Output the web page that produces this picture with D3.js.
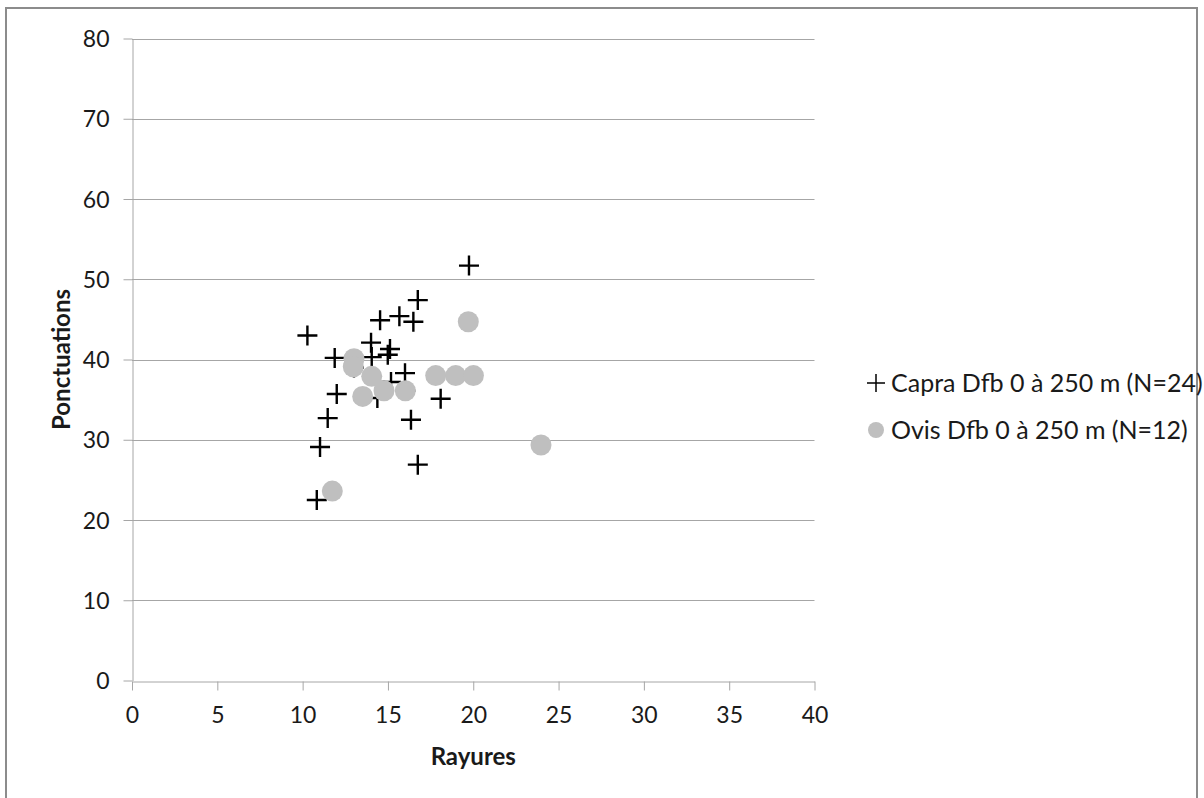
<!DOCTYPE html>
<html><head><meta charset="utf-8">
<script src="https://cdn.jsdelivr.net/npm/d3@7"></script>
<style>body{margin:0;background:#fff;} text{font-family:Lato, "Open Sans", sans-serif;}</style>
</head><body>
<svg id="c" width="1204" height="798"></svg>
<script>
// Capra Dfb 0 à 250 m (N=24): [Rayures, Ponctuations]
const capraX = [19.75, 16.75, 14.54, 15.67, 16.49, 10.28, 14.01, 15.12, 14.99, 11.88, 14.05, 16.0, 14.38, 12.0, 18.09, 11.47, 16.35, 11.02, 16.75, 10.83, 15.18, 13.01, 14.77, 16.02];
const capraY = [51.7, 47.4, 44.9, 45.4, 44.7, 43.0, 42.1, 41.3, 40.6, 40.2, 40.3, 38.3, 35.2, 35.7, 35.1, 32.7, 32.5, 29.1, 26.9, 22.5, 37.2, 39.0, 36.1, 36.1];
// Ovis Dfb 0 à 250 m (N=12)
const ovisX = [19.71, 13.01, 12.97, 14.05, 13.52, 14.77, 16.02, 17.8, 18.97, 20.01, 11.74, 23.97];
const ovisY = [44.7, 40.1, 39.1, 37.9, 35.4, 36.1, 36.1, 38.0, 38.0, 38.0, 23.6, 29.35];
const xTicks = [0, 5, 10, 15, 20, 25, 30, 35, 40];
const yTicks = [0, 10, 20, 30, 40, 50, 60, 70, 80];
const seriesNames = ["Capra Dfb 0 à 250 m (N=24)", "Ovis Dfb 0 à 250 m (N=12)"];
const xTitle = "Rayures", yTitle = "Ponctuations";

const svg = d3.select("#c");
svg.append("rect").attr("x",6).attr("y",8).attr("width",1191).attr("height",800)
  .attr("fill","#fff").attr("stroke","#8c8c8c").attr("stroke-width",2);

const x = d3.scaleLinear().domain([0,40]).range([132,814.5]);
const y = d3.scaleLinear().domain([0,80]).range([680.5,38.5]);
const grid = "#a6a6a6";

// gridlines
svg.append("g").selectAll("line").data(yTicks.filter(d=>d>0)).join("line")
  .attr("x1",x(0)).attr("x2",x(40)).attr("y1",d=>Math.round(y(d))+0.5).attr("y2",d=>Math.round(y(d))+0.5)
  .attr("stroke",grid).attr("stroke-width",1);

// axes
const xAxis = svg.append("g").attr("transform",`translate(0,${Math.round(y(0))+0.5})`)
  .call(d3.axisBottom(x).tickValues(xTicks).tickSize(9).tickSizeOuter(0).tickPadding(16));
const yAxis = svg.append("g").attr("transform",`translate(${Math.round(x(0))+0.5},0)`)
  .call(d3.axisLeft(y).tickValues(yTicks).tickSize(9).tickSizeOuter(0).tickPadding(14));
[xAxis,yAxis].forEach(a=>{
  a.selectAll("path,line").attr("stroke",grid);
  a.selectAll("text").attr("fill","#1a1a1a").style("font-size","23px").style("font-family","Lato, sans-serif");
});
yAxis.selectAll("text").attr("dy","0.35em");

// crosses
const cs = 10;
const cap = svg.append("g");
capraX.forEach((v,i)=>{
  const cx = x(v), cy = y(capraY[i]);
  cap.append("path").attr("d",`M${cx-cs},${cy}H${cx+cs}M${cx},${cy-cs}V${cy+cs}`)
    .attr("stroke","#000").attr("stroke-width",2.4);
});
// circles
svg.append("g").selectAll("circle").data(ovisX).join("circle")
  .attr("cx",d=>x(d)).attr("cy",(d,i)=>y(ovisY[i])).attr("r",10.5).attr("fill","#bfbfbf");

// titles
svg.append("text").attr("x",(x(0)+x(40))/2).attr("y",757).attr("dy","0.35em").attr("text-anchor","middle")
  .style("font-weight","bold").style("font-size","24px").attr("fill","#1a1a1a").text(xTitle);
svg.append("text").attr("transform",`translate(62,${(y(0)+y(80))/2}) rotate(-90)`).attr("dy","0.35em").attr("text-anchor","middle")
  .style("font-weight","bold").style("font-size","24px").attr("fill","#1a1a1a").text(yTitle);

// legend
const lx = 876, ly = [383, 430];
svg.append("path").attr("d",`M${lx-9},${ly[0]}H${lx+9}M${lx},${ly[0]-9}V${ly[0]+9}`).attr("stroke","#000").attr("stroke-width",1.5);
svg.append("circle").attr("cx",lx).attr("cy",ly[1]).attr("r",8).attr("fill","#bfbfbf");
seriesNames.forEach((n,i)=>{
  svg.append("text").attr("x",lx+15).attr("y",ly[i]).attr("dy","0.35em").style("font-size","25px").attr("fill","#1a1a1a").text(n);
});
</script>
</body></html>
